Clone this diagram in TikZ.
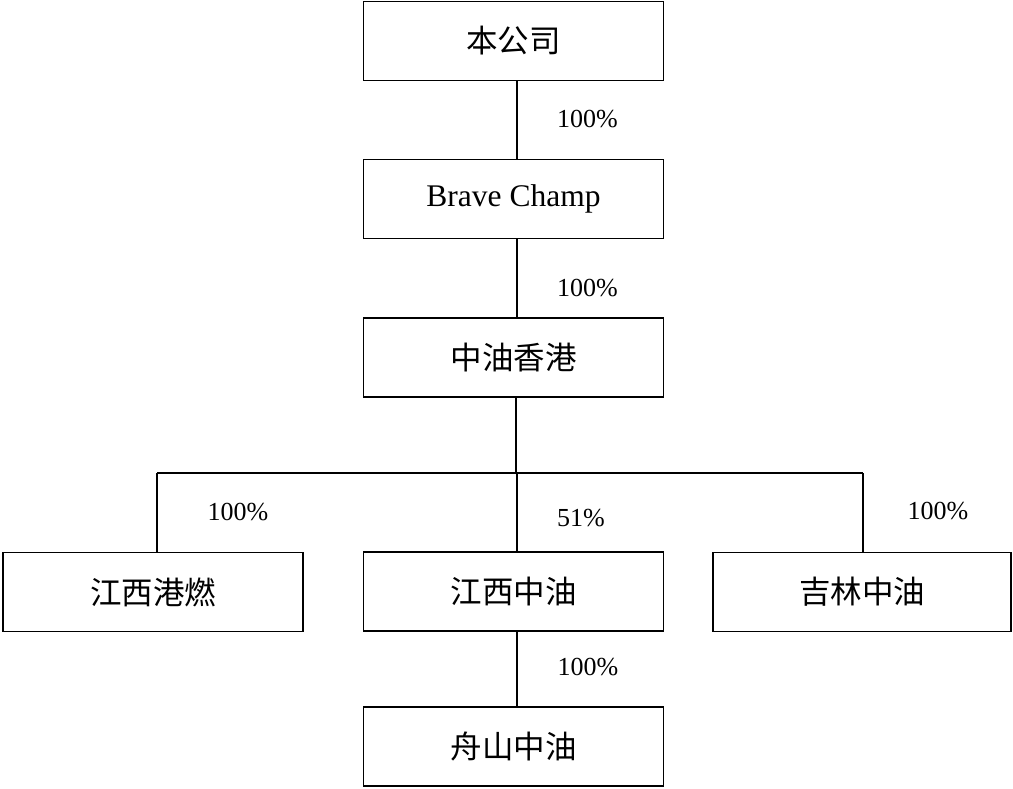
\documentclass[tikz,border=0pt]{standalone}
\usepackage{fontspec}
\setmainfont{Liberation Serif}
\newfontfamily\cjk{Noto Sans CJK SC}
\begin{document}
\begin{tikzpicture}[x=1pt,y=-1pt,
  orgbox/.style={draw,line width=1.8pt,minimum width=300pt,minimum height=79pt,inner sep=0pt,font=\fontsize{31.5}{38}\selectfont},
  link/.style={line width=1.7pt},
  pct/.style={font=\fontsize{26}{31}\selectfont,inner sep=0pt}]
\useasboundingbox (0,0) rectangle (1013,789);
\node[orgbox] (top) at (513.5,41) {\cjk 本公司};
\node[orgbox] (brave) at (513.5,199) {Brave Champ};
\node[orgbox] (hk) at (513.5,357.5) {\cjk 中油香港};
\node[orgbox] (jxgr) at (153,592) {\cjk 江西港燃};
\node[orgbox] (jxzy) at (513.5,591.5) {\cjk 江西中油};
\node[orgbox,minimum width=298pt] (jlzy) at (862,592) {\cjk 吉林中油};
\node[orgbox] (zs) at (513.5,746.5) {\cjk 舟山中油};
\coordinate (spine) at (517,0);
\coordinate (hkdrop) at (516,0);
\coordinate (bar) at (0,473);
\coordinate (lbar) at (157,473);
\coordinate (rbar) at (863,473);
\draw[link] (top.south -| spine) -- (brave.north -| spine);
\draw[link] (brave.south -| spine) -- (hk.north -| spine);
\draw[link] (hk.south -| hkdrop) -- (bar -| hkdrop);
\draw[link] (lbar) -- (rbar);
\draw[link] (lbar) -- (jxgr.north -| lbar);
\draw[link] (bar -| spine) -- (jxzy.north -| spine);
\draw[link] (rbar) -- (jlzy.north -| rbar);
\draw[link] (jxzy.south -| spine) -- (zs.north -| spine);
\node[pct] (p1) at (587.5,119) {100\%};
\node[pct] (p2) at (587.5,288) {100\%};
\node[pct] (p3) at (238,512) {100\%};
\node[pct] (p4) at (581,518) {51\%};
\node[pct] (p5) at (938,511) {100\%};
\node[pct] (p6) at (588,667) {100\%};
\end{tikzpicture}
\end{document}
